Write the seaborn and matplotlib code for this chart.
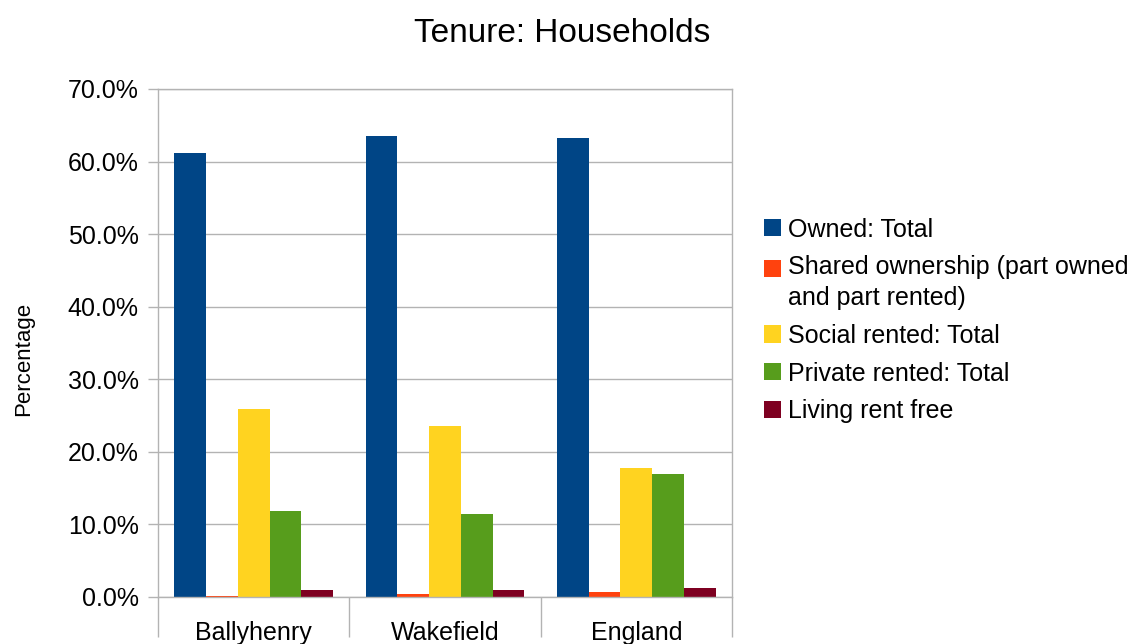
import matplotlib
matplotlib.use("Agg")
import matplotlib.pyplot as plt
import matplotlib.ticker as mtick
from matplotlib.patches import Patch, Rectangle
from matplotlib.legend_handler import HandlerPatch
import seaborn as sns
import pandas as pd

# Values (fractions of households)
areas = ["Ballyhenry", "Wakefield", "England"]
tenures = [
    "Owned: Total",
    "Shared ownership (part owned\nand part rented)",
    "Social rented: Total",
    "Private rented: Total",
    "Living rent free",
]
owned = [0.612, 0.635, 0.633]
shared = [0.001, 0.004, 0.007]
social = [0.259, 0.236, 0.178]
private = [0.118, 0.114, 0.169]
rent_free = [0.010, 0.010, 0.013]
colors = ["#004586", "#ff420e", "#ffd320", "#579d1c", "#7e0021"]
grid_grey = "#b3b3b3"

# Build a long table for seaborn
rows = []
for tenure, values in zip(tenures, [owned, shared, social, private, rent_free]):
    for area, value in zip(areas, values):
        rows.append({"Area": area, "Tenure": tenure, "Share": value})
df = pd.DataFrame(rows)

sns.set_style("white")
plt.rcParams["font.family"] = ["Liberation Sans", "DejaVu Sans"]
plt.rcParams["text.color"] = "black"
plt.rcParams["axes.labelcolor"] = "black"

fig = plt.figure(figsize=(11.4, 6.44), dpi=100)
ax = fig.add_axes([158 / 1140, 1 - 597 / 644, 574 / 1140, 508 / 644])

sns.barplot(
    data=df,
    x="Area",
    y="Share",
    hue="Tenure",
    hue_order=tenures,
    order=areas,
    palette=colors,
    saturation=1,
    width=0.83,
    linewidth=0,
    legend=False,
    ax=ax,
)

# Axis limits, percent labels and grey grid like the original
ax.set_xlim(-0.5, 2.5)
ax.set_ylim(0, 0.7)
ax.yaxis.set_major_locator(mtick.MultipleLocator(0.1))
ax.yaxis.set_major_formatter(mtick.PercentFormatter(1.0, decimals=1))
ax.yaxis.grid(True, color=grid_grey, linewidth=1)
ax.set_axisbelow(True)
for side in ["left", "right", "bottom", "top"]:
    ax.spines[side].set_color(grid_grey)
    ax.spines[side].set_linewidth(1)

ax.tick_params(axis="y", which="major", length=7, width=1, color=grid_grey,
               labelsize=18, labelcolor="black", pad=7, left=True)
# Category separators hang below the axis as long minor ticks
ax.set_xticks([-0.5, 0.5, 1.5, 2.5], minor=True)
ax.tick_params(axis="x", which="minor", length=29, width=1, color=grid_grey,
               bottom=True)
ax.tick_params(axis="x", which="major", length=0, labelsize=18,
               labelcolor="black", pad=17)

ax.set_xlabel("")
ax.set_ylabel("Percentage", fontsize=16)
ax.yaxis.set_label_coords(-0.216, 0.468)

fig.text(0.493, 0.948, "Tenure: Households", fontsize=24, ha="center", va="center")


def top_line_square(legend, orig_handle, xdescent, ydescent, width, height, fontsize):
    # keep the key of the two-line entry level with its first line
    return Rectangle((-xdescent, -ydescent + 10.8), width, height)


# Legend with square colour keys on the right
handles = [Patch(facecolor=c, edgecolor="none") for c in colors]
leg = fig.legend(
    handles,
    tenures,
    loc="center left",
    bbox_to_anchor=(764 / 1140, 1 - 320.5 / 644),
    frameon=False,
    fontsize=18,
    handlelength=0.68,
    handleheight=0.68,
    handletextpad=0.28,
    labelspacing=0.55,
    borderpad=0,
    borderaxespad=0,
    handler_map={handles[1]: HandlerPatch(patch_func=top_line_square)},
)
leg.get_texts()[1].set_linespacing(1.35)

fig.savefig("out.png", dpi=100)
